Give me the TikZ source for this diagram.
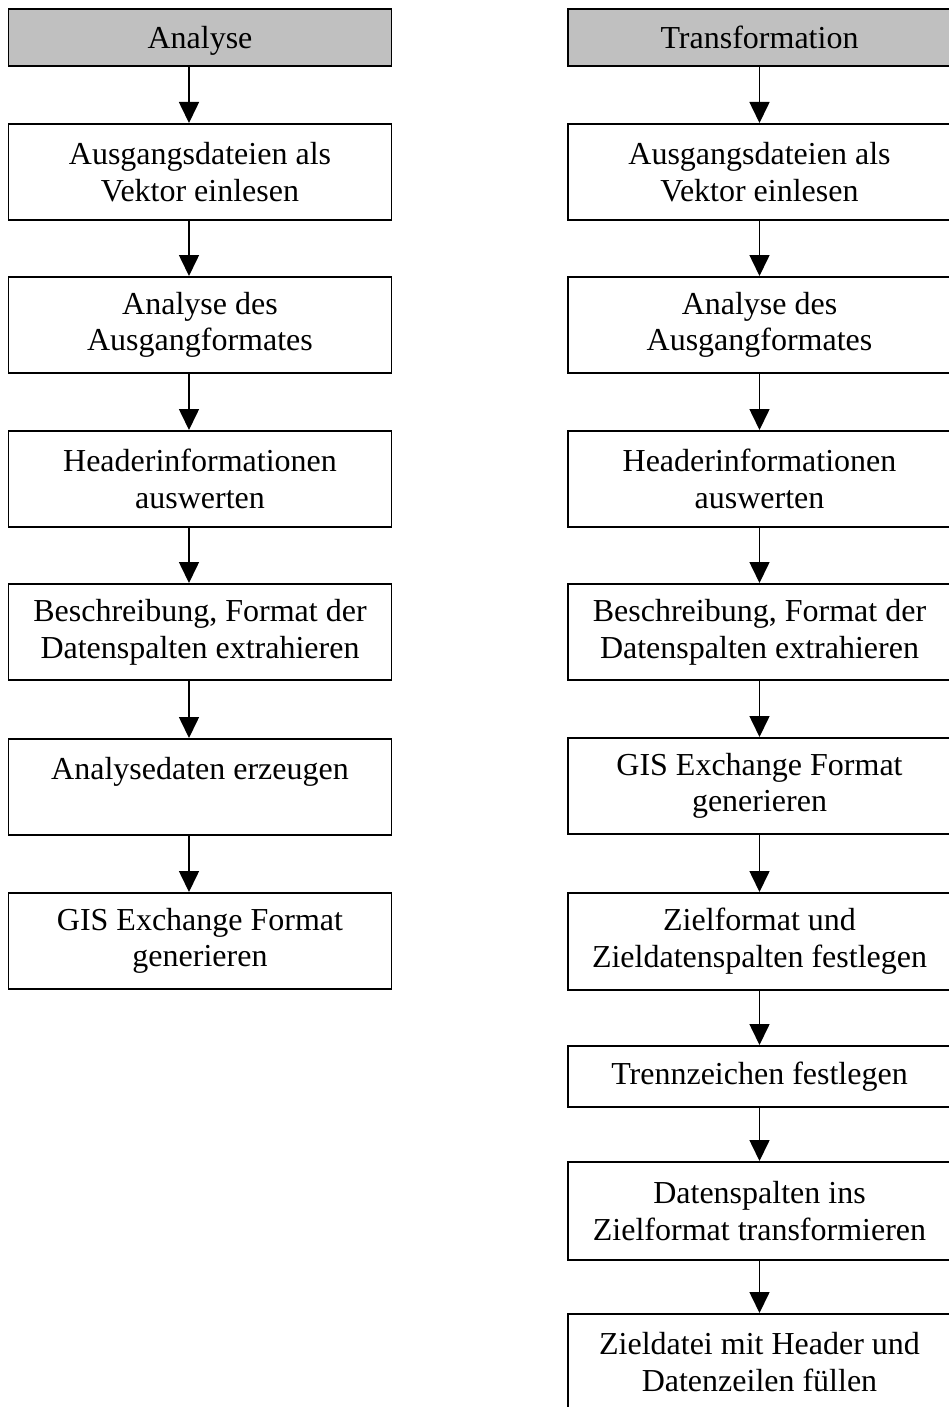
\documentclass[tikz,border=0pt]{standalone}
\usepackage{fontspec}
\setmainfont{Liberation Serif}
\usetikzlibrary{arrows.meta}
\definecolor{headgray}{RGB}{192,192,192}
\begin{document}
\begin{tikzpicture}[x=1pt,y=-1pt,
  stepbox/.style={draw, line width=1.8pt, minimum width=383pt, inner sep=0pt,
    align=center, anchor=north, font=\fontsize{32}{36.8}\selectfont},
  headbox/.style={stepbox, fill=headgray, text height=30pt, text depth=7pt},
  flow/.style={line width=1.6pt, -{Triangle[length=21pt,width=20pt]}}]
\useasboundingbox (0,0) rectangle (948,1407);

% columns: analysis (left) and transformation (right)
\coordinate (lx) at (189,0);
\coordinate (rx) at (759.5,0);

% --- Analyse ---
\node[headbox, minimum height=57pt] (a0) at (200,8) {Analyse};
\node[stepbox, minimum height=96pt] (a1) at (200,123) {Ausgangsdateien als\\Vektor einlesen};
\node[stepbox, minimum height=96pt] (a2) at (200,276) {Analyse des\\Ausgangformates};
\node[stepbox, minimum height=96pt] (a3) at (200,430) {Headerinformationen\\auswerten};
\node[stepbox, minimum height=96pt] (a4) at (200,583) {Beschreibung, Format der\\Datenspalten extrahieren};
\node[stepbox, minimum height=96pt] (a5) at (200,738) {Analysedaten erzeugen\\\mbox{}};
\node[stepbox, minimum height=96pt] (a6) at (200,892) {GIS Exchange Format\\generieren};

\foreach \i/\j in {a0/a1,a1/a2,a2/a3,a3/a4,a4/a5,a5/a6}
  \draw[flow] (\i.south -| lx) -- (\j.north -| lx);

% --- Transformation ---
\node[headbox, minimum height=57pt] (t0) at (759.5,8) {Transformation};
\node[stepbox, minimum height=96pt] (t1) at (759.5,123) {Ausgangsdateien als\\Vektor einlesen};
\node[stepbox, minimum height=96pt] (t2) at (759.5,276) {Analyse des\\Ausgangformates};
\node[stepbox, minimum height=96pt] (t3) at (759.5,430) {Headerinformationen\\auswerten};
\node[stepbox, minimum height=96pt] (t4) at (759.5,583) {Beschreibung, Format der\\Datenspalten extrahieren};
\node[stepbox, minimum height=96pt] (t5) at (759.5,737) {GIS Exchange Format\\generieren};
\node[stepbox, minimum height=97pt] (t6) at (759.5,892) {Zielformat und\\Zieldatenspalten festlegen};
\node[stepbox, minimum height=61pt] (t7) at (759.5,1045) {Trennzeichen festlegen};
\node[stepbox, minimum height=98pt] (t8) at (759.5,1161) {Datenspalten ins\\Zielformat transformieren};
\node[stepbox, minimum height=97pt] (t9) at (759.5,1313) {Zieldatei mit Header und\\Datenzeilen füllen};

\foreach \i/\j in {t0/t1,t1/t2,t2/t3,t3/t4,t4/t5,t5/t6,t6/t7,t7/t8,t8/t9}
  \draw[flow] (\i.south -| rx) -- (\j.north -| rx);
\end{tikzpicture}
\end{document}
